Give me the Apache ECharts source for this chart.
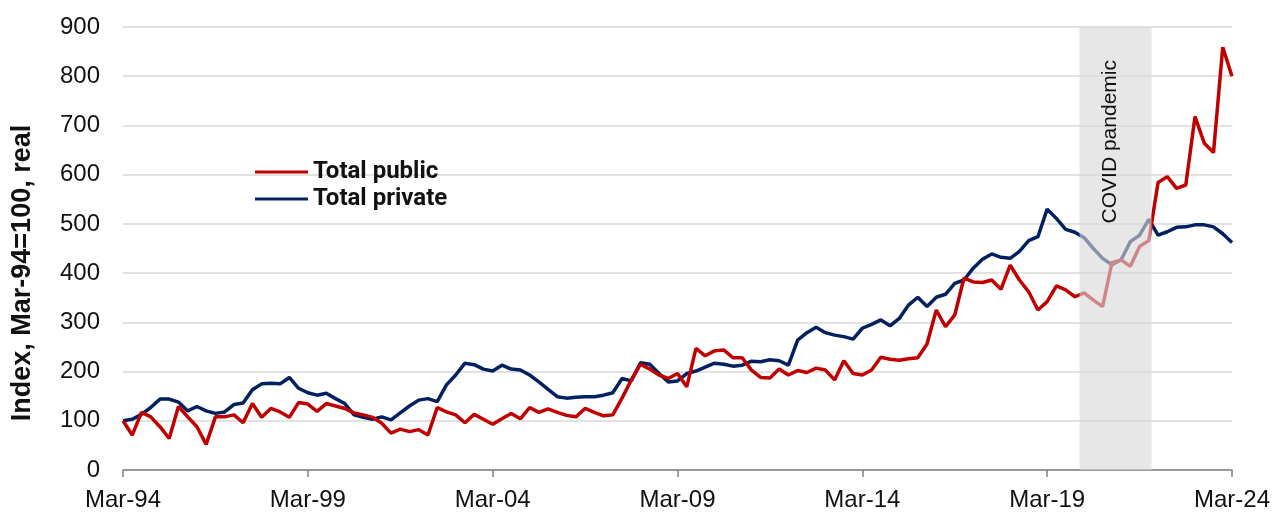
<!DOCTYPE html>
<html>
<head>
<meta charset="utf-8">
<script src="https://cdn.jsdelivr.net/npm/echarts@6/dist/echarts.min.js"></script>
<style>
  html, body { margin: 0; padding: 0; background: #fff; }
  #chart { width: 1285px; height: 514px; }
</style>
</head>
<body>
<div id="chart"></div>
<script>
// quarterly index, Mar-94 = 100 (index 0) through Mar-24 (index 120)
const totalPublic = [
  100, 71, 117, 108, 88, 64, 129, 108, 88, 52,
  108, 108, 112, 96, 135, 107, 125, 118, 107, 137,
  134, 119, 135, 130, 125, 116, 112, 107, 95, 75,
  83, 78, 82, 71, 127, 118, 112, 96, 113, 103,
  93, 104, 115, 104, 127, 117, 124, 117, 111, 108,
  125, 117, 110, 112, 146, 183, 215, 205, 193, 186,
  196, 169, 247, 232, 242, 244, 228, 228, 203, 188,
  187, 205, 193, 202, 198, 207, 203, 183, 222, 196,
  193, 203, 229, 225, 223, 226, 228, 256, 325, 291,
  315, 390, 382, 381, 386, 367, 416, 386, 362, 325,
  342, 374, 366, 352, 360, 345, 332, 421, 427, 414,
  454, 466, 584, 596, 572, 579, 718, 664, 645, 859,
  800
];
const totalPrivate = [
  100, 103, 113, 127, 144, 144, 138, 120, 129, 120,
  115, 118, 133, 136, 163, 175, 176, 175, 188, 166,
  157, 152, 156, 145, 135, 112, 107, 103, 108, 102,
  116, 130, 142, 145, 139, 173, 193, 217, 214, 205,
  201, 213, 205, 203, 193, 179, 164, 149, 146, 148,
  149, 149, 152, 157, 186, 181, 218, 215, 196, 179,
  181, 196, 201, 209, 217, 215, 211, 213, 221, 220,
  224, 222, 213, 264, 279, 290, 279, 274, 271, 266,
  288, 296, 305, 293, 308, 335, 351, 332, 351, 357,
  379, 386, 410, 428, 439, 432, 430, 444, 466, 474,
  530, 511, 489, 483, 472, 450, 430, 417, 427, 464,
  477, 509, 477, 484, 493, 494, 498, 498, 494, 480,
  462
];
const xTickLabels = ['Mar-94', 'Mar-99', 'Mar-04', 'Mar-09', 'Mar-14', 'Mar-19', 'Mar-24'];
// shaded COVID period, in quarters since Mar-94
const covidPeriod = [103.5, 111.3];

const axisFont = '"Liberation Sans", Arial, sans-serif';

const chart = echarts.init(document.getElementById('chart'), null, { renderer: 'canvas' });

const toPoints = (values) => values.map((v, i) => [i, v]);

// translucent band drawn over the lines, so they look faded inside it
function renderCovidBand(params, api) {
  const topLeft = api.coord([api.value(0), 900]);
  const bottomRight = api.coord([api.value(1), 0]);
  const midX = (topLeft[0] + bottomRight[0]) / 2;
  return {
    type: 'group',
    children: [
      {
        type: 'rect',
        shape: {
          x: topLeft[0],
          y: topLeft[1],
          width: bottomRight[0] - topLeft[0],
          height: bottomRight[1] - topLeft[1],
        },
        style: { fill: 'rgba(216,216,216,0.62)' },
      },
      {
        type: 'text',
        x: midX - 5,
        y: topLeft[1] + 33,
        rotation: Math.PI / 2,
        style: {
          text: 'COVID pandemic',
          font: '21px "Liberation Sans", Arial, sans-serif',
          fill: '#111',
          textAlign: 'right',
          textVerticalAlign: 'middle',
        },
      },
    ],
  };
}

chart.setOption({
  animation: false,
  grid: { left: 123, right: 53, top: 27, bottom: 44 },
  legend: {
    data: ['Total public', 'Total private'],
    orient: 'vertical',
    left: 250,
    top: 155,
    icon: 'rect',
    itemWidth: 53,
    itemHeight: 3,
    itemGap: 3,
    textStyle: {
      fontFamily: 'Roboto, sans-serif',
      fontWeight: 'bold',
      fontSize: 24,
      lineHeight: 24,
      color: '#111',
    },
  },
  xAxis: {
    type: 'value',
    min: 0,
    max: 120,
    interval: 20,
    splitLine: { show: false },
    axisLine: { show: true, lineStyle: { color: '#808080', width: 1.5 } },
    axisTick: { show: true, length: 7, lineStyle: { color: '#808080', width: 1.5 } },
    axisLabel: {
      margin: 18,
      fontFamily: axisFont,
      fontSize: 24,
      color: '#111',
      formatter: (value) => xTickLabels[Math.round(value / 20)],
    },
  },
  yAxis: {
    type: 'value',
    min: 0,
    max: 900,
    interval: 100,
    axisLine: { show: false },
    axisTick: { show: false },
    splitLine: { lineStyle: { color: '#d9d9d9', width: 1.5 } },
    axisLabel: {
      margin: 23,
      fontFamily: axisFont,
      fontSize: 24,
      color: '#111',
    },
  },
  graphic: [
    {
      type: 'text',
      x: 23,
      y: 273,
      rotation: Math.PI / 2,
      style: {
        text: 'Index, Mar-94=100, real',
        font: 'bold 27px "Liberation Sans", Arial, sans-serif',
        fill: '#111',
        textAlign: 'center',
        textVerticalAlign: 'middle',
      },
    },
  ],
  series: [
    {
      name: 'Total public',
      type: 'line',
      data: toPoints(totalPublic),
      showSymbol: false,
      symbol: 'none',
      lineStyle: { color: '#c00000', width: 3.5 },
      itemStyle: { color: '#c00000' },
      z: 3,
    },
    {
      name: 'Total private',
      type: 'line',
      data: toPoints(totalPrivate),
      showSymbol: false,
      symbol: 'none',
      lineStyle: { color: '#002060', width: 3.5 },
      itemStyle: { color: '#002060' },
      z: 2,
    },
    {
      name: 'COVID',
      type: 'custom',
      silent: true,
      z: 10,
      renderItem: renderCovidBand,
      data: [covidPeriod],
    },
  ],
});
</script>
</body>
</html>
